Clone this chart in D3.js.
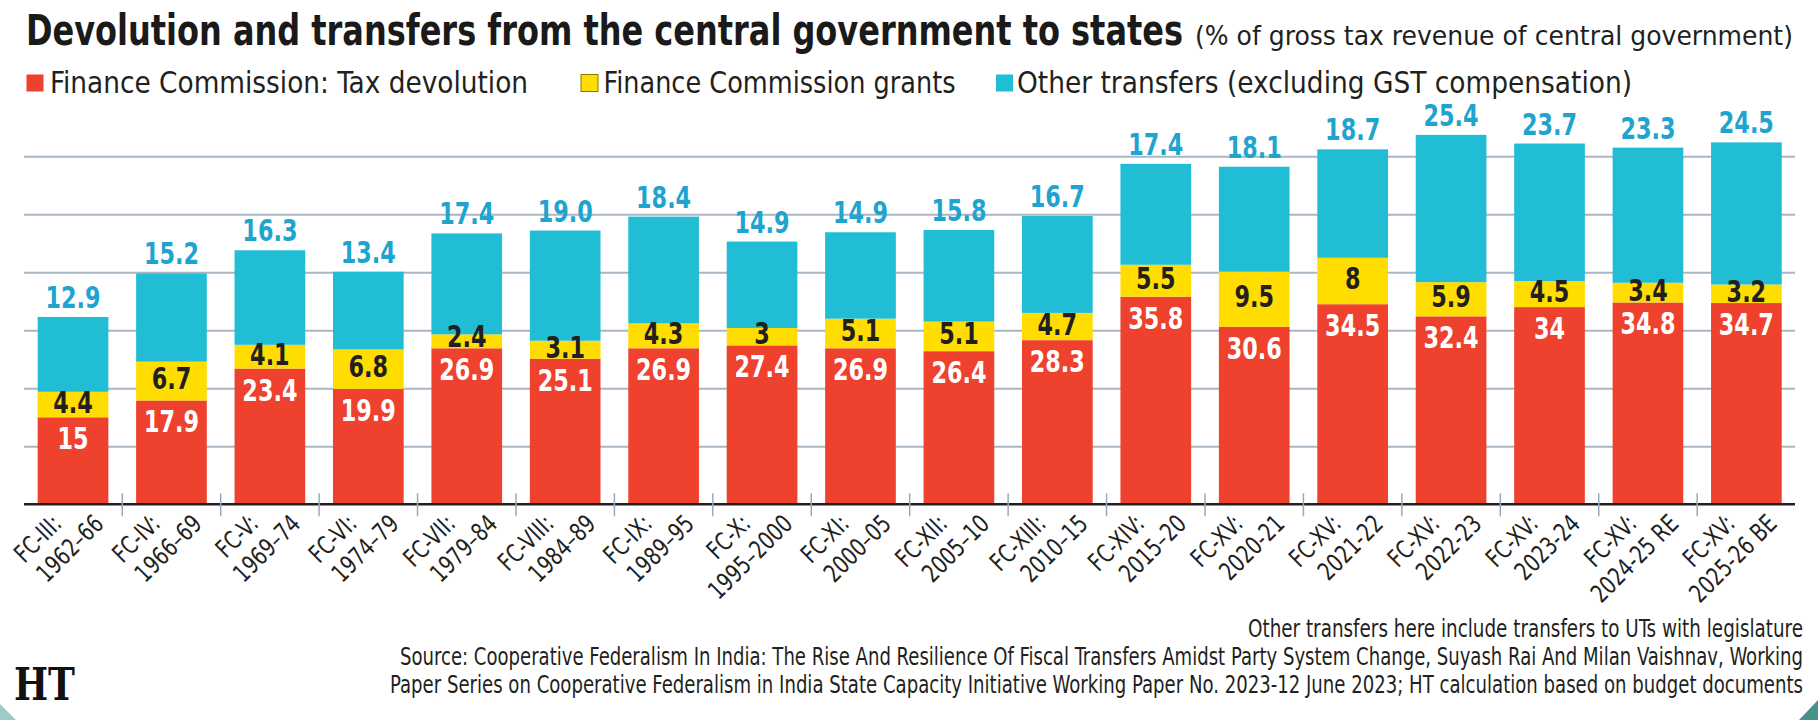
<!DOCTYPE html>
<html>
<head>
<meta charset="utf-8">
<script src="https://cdn.jsdelivr.net/npm/d3@7"></script>
<style>
  html, body { margin: 0; padding: 0; background: #ffffff; }
  svg { display: block; }
  text { font-family: 'Liberation Sans Narrow', 'Arial Narrow', 'DejaVu Sans Condensed', sans-serif; font-stretch: condensed; }
</style>
</head>
<body>
<svg id="chart" width="1818" height="720"></svg>
<script>
// ---- data ----
const commissions = ["FC-III:", "FC-IV:", "FC-V:", "FC-VI:", "FC-VII:", "FC-VIII:", "FC-IX:", "FC-X:", "FC-XI:", "FC-XII:", "FC-XIII:", "FC-XIV:", "FC-XV:", "FC-XV:", "FC-XV:", "FC-XV:", "FC-XV:", "FC-XV:"];
const periods = ["1962–66", "1966–69", "1969–74", "1974–79", "1979–84", "1984–89", "1989–95", "1995–2000", "2000–05", "2005–10", "2010–15", "2015–20", "2020-21", "2021-22", "2022-23", "2023-24", "2024-25 RE", "2025-26 BE"];
const taxDevolution = [15, 17.9, 23.4, 19.9, 26.9, 25.1, 26.9, 27.4, 26.9, 26.4, 28.3, 35.8, 30.6, 34.5, 32.4, 34, 34.8, 34.7];
const fcGrants = [4.4, 6.7, 4.1, 6.8, 2.4, 3.1, 4.3, 3, 5.1, 5.1, 4.7, 5.5, 9.5, 8, 5.9, 4.5, 3.4, 3.2];
const otherTransfers = [12.9, 15.2, 16.3, 13.4, 17.4, 19.0, 18.4, 14.9, 14.9, 15.8, 16.7, 17.4, 18.1, 18.7, 25.4, 23.7, 23.3, 24.5];
const gridValues = [10, 20, 30, 40, 50, 60];
const seriesNames = ["Finance Commission: Tax devolution", "Finance Commission grants", "Other transfers (excluding GST compensation)"];

const titleText = "Devolution and transfers from the central government to states";
const subtitleText = "(% of gross tax revenue of central government)";
const noteLines = [
  "Other transfers here include transfers to UTs with legislature",
  "Source: Cooperative Federalism In India: The Rise And Resilience Of Fiscal Transfers Amidst Party System Change, Suyash Rai And Milan Vaishnav, Working",
  "Paper Series on Cooperative Federalism in India State Capacity Initiative Working Paper No. 2023-12 June 2023; HT calculation based on budget documents"
];

// ---- styles ----
const COL = { tax: "#ee412e", grant: "#ffdd00", other: "#21bdd5", otherLabel: "#1fa4d0", ink: "#231f20", grid: "#a9b6c3", tick: "#98aaba" };

// narrow a text's glyphs horizontally by factor f
function condense(sel, f) {
  sel.each(function () {
    const l = this.getComputedTextLength();
    d3.select(this).attr("textLength", l * f).attr("lengthAdjust", "spacingAndGlyphs");
  });
}

const svg = d3.select("#chart");
const rows = commissions.map((c, i) => ({
  key: i, commission: c, period: periods[i],
  tax: taxDevolution[i], grant: fcGrants[i], other: otherTransfers[i]
}));

const x = d3.scaleBand().domain(rows.map(d => d.key)).range([24, 1795.4]).paddingInner(0.282).paddingOuter(0.139);
const y = d3.scaleLinear().domain([0, 60]).range([504.3, 156.3]);

// gridlines through an axis
const gridAxis = d3.axisLeft(y).tickValues(gridValues).tickSize(0).tickFormat("");
const gridG = svg.append("g").call(gridAxis);
gridG.select(".domain").remove();
gridG.selectAll(".tick line").attr("stroke", COL.grid).attr("stroke-width", 2).attr("x1", 24).attr("x2", 1795);

// stacked bars
const stack = d3.stack().keys(["tax", "grant", "other"]);
const layers = stack(rows);
const fills = [COL.tax, COL.grant, COL.other];
svg.append("g").selectAll("g").data(layers).join("g")
  .attr("fill", (d, i) => fills[i])
  .selectAll("rect").data(d => d).join("rect")
  .attr("x", d => x(d.data.key))
  .attr("width", x.bandwidth())
  .attr("y", d => y(d[1]))
  .attr("height", d => y(d[0]) - y(d[1]));

// x axis baseline via axis
const xAxis = d3.axisBottom(x).tickSize(0).tickFormat("");
const xg = svg.append("g").attr("transform", "translate(0," + y(0) + ")").call(xAxis);
xg.select(".domain").attr("stroke", COL.ink).attr("stroke-width", 2.5).attr("d", "M24,0H1795");

// separator ticks between bars
const step = x.step();
svg.append("g").selectAll("line").data(rows.slice(1)).join("line")
  .attr("x1", d => x(d.key) - step * x.paddingInner() / 2)
  .attr("x2", d => x(d.key) - step * x.paddingInner() / 2)
  .attr("y1", y(0) - 11).attr("y2", y(0) + 12)
  .attr("stroke", COL.tick).attr("stroke-width", 1.5);

// category labels (two lines, rotated)
const cx = d => x(d.key) + x.bandwidth() / 2;
const labG = svg.append("g").attr("font-size", 25).attr("fill", COL.ink).attr("text-anchor", "end");
labG.selectAll("text.l1").data(rows).join("text").attr("class", "l1")
  .attr("transform", d => `translate(${cx(d) - 10},${y(0) + 21}) rotate(-45)`)
  .text(d => d.commission).call(condense, 0.85);
labG.selectAll("text.l2").data(rows).join("text").attr("class", "l2")
  .attr("transform", d => `translate(${cx(d) + 32},${y(0) + 21}) rotate(-45)`)
  .text(d => d.period).call(condense, 0.85);

// value labels
const valG = svg.append("g").attr("font-size", 31).attr("font-weight", "bold").attr("text-anchor", "middle");
valG.selectAll("text.tot").data(rows).join("text").attr("class", "tot")
  .attr("x", cx).attr("y", d => y(d.tax + d.grant + d.other) - 9)
  .attr("fill", COL.otherLabel).text(d => d.other.toFixed(1)).call(condense, 0.8);
valG.selectAll("text.tax").data(rows).join("text").attr("class", "tax")
  .attr("x", cx).attr("y", d => y(d.tax) + 32)
  .attr("fill", "#ffffff").text(d => String(d.tax)).call(condense, 0.8);
valG.selectAll("text.gr").data(rows).join("text").attr("class", "gr")
  .attr("x", cx)
  .attr("y", d => {
    const top = y(d.tax + d.grant), bot = y(d.tax);
    const c = (top + bot) / 2 - 3;
    return Math.min(c + 11, bot - 1);
  })
  .attr("fill", COL.ink).text(d => String(d.grant)).call(condense, 0.8);

// title
svg.append("text").attr("x", 26).attr("y", 45).attr("font-size", 42).attr("font-weight", "bold")
  .attr("fill", "#1a1a1a").attr("textLength", 1157).attr("lengthAdjust", "spacingAndGlyphs").text(titleText);
svg.append("text").attr("x", 1195).attr("y", 45).attr("font-size", 27)
  .attr("fill", "#231f20").attr("textLength", 598).attr("lengthAdjust", "spacingAndGlyphs").text(subtitleText);

// legend
const legendX = [26.5, 581, 996];
const legendTextX = [50, 603.5, 1017];
const legendLen = [478, 352, 615];
const legG = svg.append("g");
seriesNames.forEach((name, i) => {
  legG.append("rect").attr("x", legendX[i]).attr("y", 74.5).attr("width", 17).attr("height", 17)
    .attr("fill", fills[i]).attr("stroke", i === 1 ? "#8a7a00" : "none").attr("stroke-width", i === 1 ? 1 : 0);
  legG.append("text").attr("x", legendTextX[i]).attr("y", 93).attr("font-size", 30).attr("fill", COL.ink)
    .attr("textLength", legendLen[i]).attr("lengthAdjust", "spacingAndGlyphs").text(name);
});

// notes
const noteY = [636.7, 665, 693.3];
const noteLen = [555, 1403, 1413];
svg.append("g").selectAll("text").data(noteLines).join("text")
  .attr("x", 1803).attr("y", (d, i) => noteY[i]).attr("text-anchor", "end")
  .attr("font-size", 25).attr("fill", COL.ink)
  .attr("textLength", (d, i) => noteLen[i]).attr("lengthAdjust", "spacingAndGlyphs")
  .text(d => d);

// HT logo
svg.append("text").attr("x", 14).attr("y", 700).attr("font-size", 44).attr("font-weight", "bold")
  .style("font-family", "'DejaVu Serif', 'Liberation Serif', serif").style("font-stretch", "normal")
  .attr("fill", "#111").attr("textLength", 61).attr("lengthAdjust", "spacingAndGlyphs").text("HT");

// corner accents
svg.append("polygon").attr("points", "0,704 16,720 0,720").attr("fill", "#9fcac6");
svg.append("polygon").attr("points", "1818,700 1799,720 1818,720").attr("fill", "#4a918b");
</script>
</body>
</html>
